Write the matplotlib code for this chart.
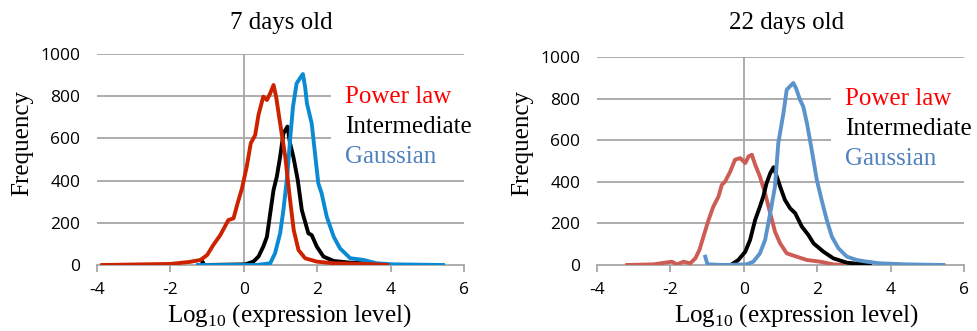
import matplotlib
matplotlib.use("Agg")
import matplotlib.pyplot as plt
from matplotlib.patches import Rectangle

plt.rcParams['mathtext.fontset'] = 'custom'
plt.rcParams['mathtext.rm'] = 'Liberation Serif'
plt.rcParams['axes.unicode_minus'] = False

# ---- 7 days old ----
d7_power_x = [-3.86, -2.0, -1.46, -1.18, -1.0, -0.83, -0.64, -0.42, -0.28, -0.17, -0.05, 0.08,
              0.19, 0.31, 0.40, 0.53, 0.63, 0.72, 0.81, 0.88, 0.99, 1.13, 1.25, 1.36, 1.49,
              1.67, 1.99, 2.45, 3.35, 3.9]
d7_power_y = [0, 5, 15, 24, 47, 95, 142, 213, 221, 292, 363, 466,
              577, 616, 711, 798, 782, 814, 853, 798, 671, 513, 324, 166, 71,
              32, 16, 8, 5, 0]

d7_inter_x = [-1.15, -1.12, -1.08, 0.04, 0.26, 0.40, 0.53, 0.63, 0.72, 0.81, 0.90, 0.99, 1.08,
              1.19, 1.26, 1.35, 1.47, 1.58, 1.67, 1.76, 1.85, 1.99, 2.17, 2.45, 2.90,
              3.35, 3.80]
d7_inter_y = [0, 15, 0, 3, 16, 40, 87, 134, 245, 355, 419, 513, 624,
              656, 577, 513, 403, 261, 205, 150, 142, 87, 40, 19, 11,
              8, 2]

d7_gauss_x = [-1.25, 0.35, 0.72, 0.85, 0.99, 1.08, 1.19, 1.26, 1.34, 1.44, 1.53, 1.61, 1.67,
              1.72, 1.85, 1.94, 2.03, 2.12, 2.26, 2.45, 2.62, 2.90, 3.26, 3.62, 4.07, 5.43]
d7_gauss_y = [0, 0, 8, 55, 150, 261, 434, 592, 750, 861, 885, 905, 845,
              766, 671, 529, 387, 340, 229, 134, 79, 32, 24, 8, 3, 0]

# ---- 22 days old ----
d22_power_x = [-3.18, -2.46, -1.96, -1.82, -1.64, -1.46, -1.32, -1.21, -1.10, -0.96, -0.83,
               -0.69, -0.60, -0.51, -0.37, -0.24, -0.10, 0.04, 0.13, 0.22, 0.31, 0.44, 0.58,
               0.72, 0.85, 0.99, 1.17, 1.44, 1.72, 2.08, 2.44, 2.71]
d22_power_y = [0, 3, 16, 3, 16, 8, 32, 72, 136, 217, 281,
               329, 385, 401, 449, 506, 514, 490, 522, 530, 482, 425, 345,
               249, 160, 104, 56, 40, 24, 16, 3, 0]

d22_inter_x = [-0.33, -0.15, 0.04, 0.17, 0.31, 0.44, 0.53, 0.62, 0.72, 0.81, 0.90, 0.99,
               1.12, 1.26, 1.40, 1.58, 1.76, 1.90, 2.17, 2.44, 2.81, 3.44]
d22_inter_y = [3, 24, 64, 120, 217, 281, 329, 393, 441, 470, 425, 377,
               313, 273, 249, 185, 144, 104, 64, 32, 11, 0]

d22_gauss_x = [-1.05, -0.99, -0.55, 0.08, 0.26, 0.44, 0.58, 0.72, 0.85, 0.94, 1.08, 1.17,
               1.26, 1.35, 1.42, 1.53, 1.62, 1.72, 1.85, 1.99, 2.12, 2.26, 2.40, 2.58,
               2.81, 3.08, 3.35, 3.71, 4.44, 5.44]
d22_gauss_y = [40, 3, 0, 3, 16, 56, 120, 249, 377, 586, 730, 843,
               859, 875, 851, 795, 762, 682, 554, 409, 313, 217, 136, 80,
               40, 24, 16, 8, 3, 0]

titles = ["7 days old", "22 days old"]
labels = ["Power law", "Intermediate", "Gaussian"]
xticks = [-4, -2, 0, 2, 4, 6]
yticks = [0, 200, 400, 600, 800, 1000]

grid_col = '#a6a6a6'
serif = 'Liberation Serif'


def setup_axes(ax):
    ax.set_xlim(-4, 6)
    ax.set_ylim(0, 1000)
    for s in ax.spines.values():
        s.set_visible(False)
    for yv in yticks[1:]:
        ax.axhline(yv, color=grid_col, lw=1.3, zorder=1)
    ax.axhline(0, color=grid_col, lw=1.3, zorder=1, clip_on=False)
    ax.axvline(0, color=grid_col, lw=1.3, zorder=1)
    ax.set_xticks(xticks)
    ax.set_yticks(yticks)
    ax.tick_params(axis='x', direction='out', length=5, width=1.3, color=grid_col,
                   labelsize=12.5, pad=7, labelfontfamily='Open Sans')
    ax.tick_params(axis='y', length=0, labelsize=12.5, pad=12, labelfontfamily='Open Sans')


def legend_block(ax, colors):
    ax.add_patch(Rectangle((2.38, 470), 4.0, 400, facecolor='white', edgecolor='none',
                           zorder=2, clip_on=False))
    ys = [796, 654, 512]
    for lab, c, yv in zip(labels, colors, ys):
        ax.text(2.76, yv, lab, color=c, fontsize=18, family=serif, va='center',
                ha='left', zorder=3, clip_on=False)


fig = plt.figure(figsize=(9.78, 3.31), dpi=100)
ax1 = fig.add_axes([97 / 978, 1 - 265 / 331, 367 / 978, 211 / 331])
ax2 = fig.add_axes([597 / 978, 1 - 265 / 331, 367 / 978, 208 / 331])

setup_axes(ax1)
ax1.plot(d7_inter_x, d7_inter_y, color='black', lw=2.8, zorder=4)
ax1.plot(d7_gauss_x, d7_gauss_y, color='#0a8ad2', lw=2.8, zorder=4)
ax1.plot(d7_power_x, d7_power_y, color='#cc2200', lw=2.8, zorder=4)
legend_block(ax1, ['#ff0000', 'black', '#4f81bd'])

setup_axes(ax2)
ax2.plot(d22_power_x, d22_power_y, color='#cd5c55', lw=2.8, zorder=4)
ax2.plot(d22_inter_x, d22_inter_y, color='black', lw=2.8, zorder=4)
ax2.plot(d22_gauss_x, d22_gauss_y, color='#5b93cc', lw=2.8, zorder=4)
legend_block(ax2, ['#ff0000', 'black', '#4f81bd'])

fig.text(281 / 978, 1 - 23 / 331, titles[0], ha='center', va='center', fontsize=18, family=serif)
fig.text(787 / 978, 1 - 23 / 331, titles[1], ha='center', va='center', fontsize=18, family=serif)

xlab = r"Log$_{\mathrm{10}}$ (expression level)"
fig.text(289 / 978, 1 - 316 / 331, xlab, ha='center', va='center', fontsize=18, family=serif)
fig.text(796 / 978, 1 - 316 / 331, xlab, ha='center', va='center', fontsize=18, family=serif)
fig.text(22 / 978, 1 - 143 / 331, "Frequency", rotation=90, ha='center', va='center',
         fontsize=18, family=serif)
fig.text(522 / 978, 1 - 143 / 331, "Frequency", rotation=90, ha='center', va='center',
         fontsize=18, family=serif)

fig.savefig("out.png", dpi=100)
